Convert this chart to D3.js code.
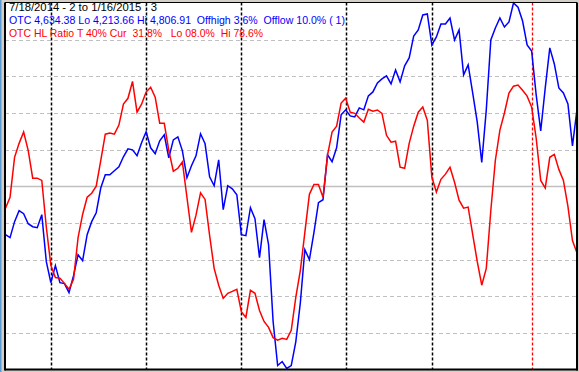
<!DOCTYPE html>
<meta charset="utf-8" />
<html>
<head>
<script src="https://d3js.org/d3.v7.min.js"></script>
<style>
  body { margin: 0; background: #d4d0c8; }
  svg { display: block; }
  text { font-family: Arial, "Liberation Sans", sans-serif; font-size: 11.5px; white-space: pre; }
</style>
</head>
<body>
<svg width="579" height="372"></svg>
<script>
// OTC close, 7/18/2014 .. 1/16/2015 (one value per trading day)
var otc = [
  4430.9, 4426.0, 4452.0, 4469.8, 4464.9, 4448.7, 4443.8, 4442.2, 4463.3, 4387.1,
  4353.0, 4380.6, 4353.0, 4351.4, 4336.9, 4364.4, 4398.4, 4388.7, 4430.9, 4452.0,
  4466.5, 4506.6, 4528.1, 4528.1, 4534.6, 4541.1, 4557.3, 4570.3, 4568.6, 4558.9,
  4580.0, 4597.8, 4571.9, 4562.2, 4583.2, 4593.0, 4555.7, 4584.8, 4589.7, 4567.0,
  4523.3, 4542.7, 4558.9, 4594.6, 4578.4, 4524.9, 4510.3, 4552.4, 4471.4, 4510.3,
  4505.4, 4495.7, 4430.9, 4429.2, 4474.6, 4456.8, 4393.6, 4455.2, 4414.6, 4290.0,
  4218.5, 4225.0, 4213.66, 4218.5, 4257.0, 4320.0, 4406.6, 4390.3, 4434.1, 4482.7,
  4487.6, 4560.5, 4549.2, 4571.9, 4625.4, 4633.5, 4623.7, 4622.1, 4636.7, 4633.5,
  4656.2, 4662.6, 4677.2, 4683.7, 4688.6, 4675.6, 4698.3, 4678.9, 4704.8, 4717.8,
  4753.4, 4763.2, 4787.5, 4789.1, 4738.8, 4751.8, 4772.9, 4772.9, 4782.6, 4746.9,
  4763.2, 4690.2, 4706.4, 4661.0, 4614.0, 4548.0, 4633.5, 4746.9, 4766.4, 4782.6,
  4768.0, 4776.1, 4806.91, 4800.0, 4777.7, 4738.8, 4729.1, 4657.8, 4599.4, 4669.1,
  4734.0, 4708.0, 4669.1, 4661.0, 4643.2, 4575.1, 4634.38
];

// HL ratio (%)
var hlRatio = [
  44.0, 47.0, 57.9, 61.7, 64.8, 59.8, 52.2, 52.2, 51.6, 38.8,
  28.4, 25.1, 24.9, 23.5, 21.9, 24.6, 36.0, 42.3, 47.0, 48.1,
  50.0, 57.0, 64.2, 64.5, 64.2, 66.7, 72.4, 74.0, 78.6, 70.2,
  72.4, 75.7, 77.0, 74.3, 67.2, 67.2, 59.8, 54.1, 54.9, 56.6,
  47.0, 37.4, 42.1, 48.2, 46.4, 36.6, 27.6, 23.0, 19.4, 20.8,
  21.3, 21.9, 15.8, 14.2, 21.6, 20.8, 16.1, 13.1, 11.5, 8.7,
  8.0, 8.5, 8.2, 10.7, 19.7, 27.0, 37.4, 47.8, 50.5, 50.5,
  47.0, 58.5, 64.8, 66.4, 72.7, 74.0, 70.2, 69.9, 68.6, 67.5,
  71.0, 70.5, 70.8, 69.9, 63.9, 62.0, 62.3, 55.2, 54.9, 61.7,
  66.4, 70.2, 71.6, 68.0, 52.5, 48.4, 51.9, 53.3, 55.2, 51.1,
  46.2, 44.0, 44.3, 36.9, 29.5, 23.0, 27.6, 43.4, 57.1, 65.3,
  70.0, 75.4, 77.3, 77.6, 76.2, 74.6, 71.6, 63.1, 51.6, 49.5,
  57.9, 58.7, 54.6, 51.6, 44.5, 35.2, 31.8
];

// month starts (day index) and the marked day
var monthStarts = [10, 31, 52, 75, 94];
var markDay = 116;

var gridTicks = [10, 20, 30, 40, 60, 70, 80, 90];
var midTick = 50;

var headerLines = [
  "7/18/2014 - 2 to 1/16/2015 : 3",
  "OTC 4,634.38 Lo 4,213.66 Hi 4,806.91  Offhigh 3.6%  Offlow 10.0% ( 1)",
  "OTC HL Ratio T 40% Cur  31.8%   Lo 08.0%  Hi 78.6%"
];
var headerColors = ["#000000", "#0000ff", "#ff0000"];
var headerWidths = [148, 336, 254];

var svg = d3.select("svg");
var box = {left: 5, top: 2.5, right: 577, bottom: 369.5};

// window chrome
svg.append("rect").attr("width", 579).attr("height", 372).attr("fill", "#d4d0c8");
svg.append("rect").attr("width", 1.5).attr("height", 372).attr("fill", "#5b9bd5");
svg.append("rect")
    .attr("x", box.left).attr("y", box.top)
    .attr("width", box.right - box.left).attr("height", box.bottom - box.top)
    .attr("fill", "#ffffff");

var x = d3.scaleLinear().domain([0, otc.length - 1]).range([box.left + 0.5, box.right]);
var yPct = d3.scaleLinear().domain([0, 100]).range([box.bottom, box.top + 0.5]);
var yOtc = d3.scaleLinear().domain([d3.min(otc), d3.max(otc)]).range([box.bottom - 1, box.top + 0.5]);

// horizontal grid
svg.append("g").selectAll("line").data(gridTicks).enter().append("line")
    .attr("x1", box.left).attr("x2", box.right)
    .attr("y1", function(d) { return Math.round(yPct(d)) + 0.5; })
    .attr("y2", function(d) { return Math.round(yPct(d)) + 0.5; })
    .attr("stroke", "#c0c0c0").attr("stroke-width", 1.2)
    .attr("stroke-dasharray", "4,3");

svg.append("line")
    .attr("x1", box.left).attr("x2", box.right)
    .attr("y1", Math.round(yPct(midTick)) + 0.5).attr("y2", Math.round(yPct(midTick)) + 0.5)
    .attr("stroke", "#c0c0c0").attr("stroke-width", 1.5);

// month separators
svg.append("g").selectAll("line").data(monthStarts).enter().append("line")
    .attr("x1", function(d) { return Math.round(x(d)) + 0.5; })
    .attr("x2", function(d) { return Math.round(x(d)) + 0.5; })
    .attr("y1", box.top).attr("y2", box.bottom)
    .attr("stroke", "#000000").attr("stroke-width", 1.5)
    .attr("stroke-dasharray", "3,2");

svg.append("line")
    .attr("x1", Math.round(x(markDay)) + 0.5).attr("x2", Math.round(x(markDay)) + 0.5)
    .attr("y1", box.top).attr("y2", box.bottom)
    .attr("stroke", "#ff0000").attr("stroke-width", 1.3)
    .attr("stroke-dasharray", "3,2");

// series
var otcLine = d3.line().x(function(d, i) { return x(i); }).y(function(d) { return yOtc(d); });
var hlLine = d3.line().x(function(d, i) { return x(i); }).y(function(d) { return yPct(d); });

svg.append("path").datum(otc).attr("d", otcLine)
    .attr("fill", "none").attr("stroke", "#0000ff").attr("stroke-width", 1.5);
svg.append("path").datum(hlRatio).attr("d", hlLine)
    .attr("fill", "none").attr("stroke", "#ff0000").attr("stroke-width", 1.5);

// frame: thin top, heavier left / right / bottom
var frame = svg.append("g").attr("stroke", "#000000");
frame.append("line").attr("x1", box.left).attr("x2", box.right).attr("y1", box.top).attr("y2", box.top).attr("stroke-width", 1);
frame.append("line").attr("x1", box.left).attr("x2", box.left).attr("y1", box.top).attr("y2", box.bottom + 1).attr("stroke-width", 2);
frame.append("line").attr("x1", box.right).attr("x2", box.right).attr("y1", box.top).attr("y2", box.bottom + 1).attr("stroke-width", 2);
frame.append("line").attr("x1", box.left).attr("x2", box.right + 1).attr("y1", box.bottom).attr("y2", box.bottom).attr("stroke-width", 2);

// header text
svg.append("g").selectAll("text").data(headerLines).enter().append("text")
    .attr("x", 9)
    .attr("y", function(d, i) { return 11 + i * 13; })
    .attr("fill", function(d, i) { return headerColors[i]; })
    .attr("textLength", function(d, i) { return headerWidths[i]; })
    .attr("lengthAdjust", "spacingAndGlyphs")
    .text(function(d) { return d; });
</script>
</body>
</html>
